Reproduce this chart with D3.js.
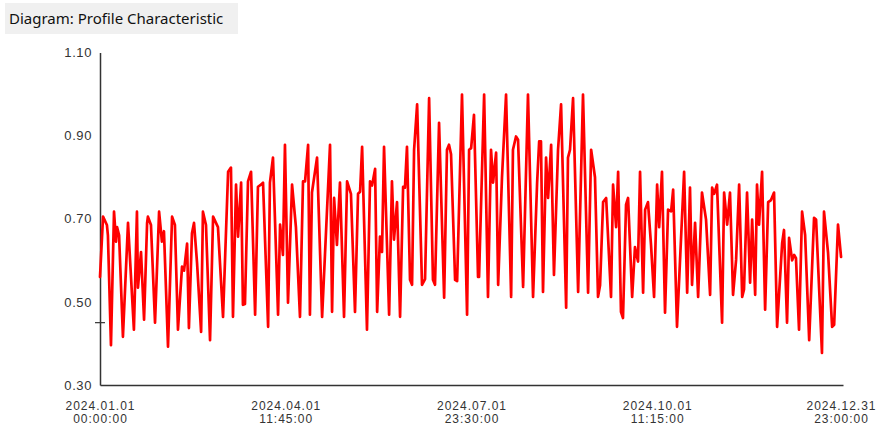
<!DOCTYPE html>
<html>
<head>
<meta charset="utf-8">
<script src="https://cdn.jsdelivr.net/npm/d3@7"></script>
<style>
  html, body { margin: 0; padding: 0; background: #ffffff; }
  svg { display: block; }
</style>
</head>
<body>
<svg id="chart" width="876" height="426"></svg>
<script>
// Profile characteristic over 2024: time in days since 2024-01-01 00:00 and the profile value.
const title = "Diagram: Profile Characteristic";

const dayOffsets = [
  0, 1.5, 3.4, 3.9, 5.4, 6.9, 7.9, 8.4, 9.4, 11.3, 13.8, 16.7, 18.2, 18.7, 20.2, 21.7,
  23.2, 23.6, 25.1, 27.1, 29.1, 30.5, 31.5, 33.5, 35.5, 36.9, 38.4, 40.4, 41.4, 42.9, 43.8,
  45.3, 46.3, 47.8, 49.8, 50.7, 52.2, 54.2, 55.7, 58.1, 60.6, 63.1, 64.5, 65.5, 67.0, 68.0,
  69.5, 70.4, 71.4, 72.9, 74.4, 76.4, 77.8, 79.3, 80.3, 82.8, 83.7, 85.2, 87.7, 88.7, 90.1,
  91.1, 92.6, 94.6, 96.5, 98.5, 100.0, 101.0, 102.5, 103.4, 104.4, 106.9, 109.4, 113.3, 114.3,
  115.3, 116.7, 118.2, 120.2, 121.7, 123.6, 125.6, 127.1, 128.1, 129.1, 131.5, 133.0, 134.0,
  135.5, 136.5, 137.9, 138.9, 139.9, 142.4, 143.8, 144.8, 146.3, 147.8, 149.3, 150.2, 151.2,
  152.7, 153.7, 154.7, 156.2, 158.6, 160.1, 162.1, 164.0, 165.0, 167.0, 169.5, 170.9, 171.9,
  172.9, 174.9, 175.9, 178.3, 180.8, 181.8, 182.8, 184.2, 186.2, 186.7, 189.2, 191.1, 192.6,
  193.6, 195.1, 196.1, 198.0, 200.0, 202.5, 203.4, 204.9, 205.9, 208.4, 210.8, 213.3, 215.3,
  216.3, 217.2, 218.2, 219.7, 220.7, 222.2, 223.6, 225.6, 227.1, 229.6, 230.5, 231.5, 233.0,
  235.5, 237.9, 240.4, 241.9, 243.8, 245.3, 246.3, 247.8, 249.3, 251.7, 252.7, 254.2, 255.2,
  256.6, 257.6, 259.1, 260.1, 262.1, 263.5, 265.0, 266.0, 267.5, 268.5, 269.9, 271.4, 272.9,
  274.4, 275.4, 276.8, 278.3, 279.8, 281.3, 282.3, 284.2, 285.7, 287.7, 289.2, 290.6, 291.6,
  293.1, 294.6, 296.5, 298.5, 300.5, 301.5, 302.5, 303.9, 306.4, 307.4, 308.9, 310.3, 311.8,
  313.3, 314.8, 316.3, 317.2, 318.7, 320.2, 321.2, 322.7, 323.6, 324.6, 326.1, 327.6, 329.1,
  330.5, 332.0, 333.5, 336.0, 336.9, 338.4, 339.4, 340.9, 341.9, 342.8, 344.3, 345.8, 347.3,
  349.3, 351.7, 352.7, 355.6, 356.6, 358.6, 360.6, 361.6, 363.5, 365.0
];

const profileValues = [
  0.56, 0.705, 0.685, 0.66, 0.396, 0.717, 0.645, 0.68, 0.66, 0.416, 0.69, 0.433, 0.717, 0.534, 0.62, 0.457,
  0.69, 0.705, 0.685, 0.45, 0.717, 0.645, 0.67, 0.392, 0.705, 0.685, 0.433, 0.585, 0.575, 0.64, 0.437,
  0.665, 0.69, 0.594, 0.428, 0.717, 0.685, 0.408, 0.705, 0.68, 0.464, 0.813, 0.823, 0.464, 0.782, 0.657,
  0.787, 0.493, 0.495, 0.79, 0.813, 0.469, 0.777, 0.782, 0.787, 0.44, 0.787, 0.847, 0.469, 0.686, 0.613,
  0.878, 0.498, 0.782, 0.68, 0.464, 0.79, 0.79, 0.878, 0.469, 0.763, 0.847, 0.464, 0.878, 0.476,
  0.75, 0.637, 0.787, 0.464, 0.79, 0.76, 0.476, 0.76, 0.765, 0.873, 0.433, 0.79, 0.78,
  0.82, 0.476, 0.657, 0.62, 0.873, 0.469, 0.79, 0.65, 0.74, 0.464, 0.777, 0.775, 0.873,
  0.553, 0.541, 0.866, 0.975, 0.541, 0.555, 0.99, 0.553, 0.541, 0.931, 0.51, 0.866, 0.878,
  0.855, 0.553, 0.55, 0.999, 0.469, 0.866, 0.87, 0.95, 0.56, 0.56, 0.999, 0.512, 0.866,
  0.787, 0.859, 0.541, 0.80, 0.999, 0.512, 0.866, 0.898, 0.89, 0.536, 0.999, 0.512, 0.787,
  0.886, 0.886, 0.524, 0.847, 0.75, 0.878, 0.565, 0.866, 0.975, 0.486, 0.847, 0.866, 0.99,
  0.524, 0.999, 0.522, 0.866, 0.80, 0.512, 0.54, 0.74, 0.75, 0.512, 0.782, 0.68, 0.813,
  0.476, 0.461, 0.734, 0.75, 0.512, 0.632, 0.597, 0.813, 0.522, 0.722, 0.74, 0.637, 0.512,
  0.782, 0.68, 0.813, 0.474, 0.722, 0.718, 0.77, 0.44, 0.601, 0.813, 0.522, 0.775, 0.541,
  0.69, 0.512, 0.763, 0.698, 0.517, 0.775, 0.76, 0.782, 0.45, 0.763, 0.686, 0.763, 0.517,
  0.601, 0.782, 0.512, 0.53, 0.763, 0.546, 0.698, 0.517, 0.782, 0.686, 0.813, 0.481, 0.74,
  0.745, 0.763, 0.44, 0.642, 0.673, 0.45, 0.654, 0.60, 0.613, 0.605, 0.433, 0.717, 0.661,
  0.408, 0.702, 0.698, 0.377, 0.717, 0.618, 0.44, 0.445, 0.686, 0.608
];

const yTickValues = [0.30, 0.50, 0.70, 0.90, 1.10];
const xTickTimes = [
  "2024-01-01T00:00:00Z",
  "2024-04-01T11:45:00Z",
  "2024-07-01T23:30:00Z",
  "2024-10-01T11:15:00Z",
  "2024-12-31T23:00:00Z"
];
const markerValue = 0.45;

const DAY_MS = 86400000;
const startMs = Date.parse(xTickTimes[0]);
const points = dayOffsets.map((d, i) => ({ t: new Date(startMs + d * DAY_MS), v: profileValues[i] }));
const xTicks = xTickTimes.map(s => new Date(s));

const svg = d3.select("#chart");
const labelFont = "'Liberation Sans', Arial, sans-serif";

// Title band
svg.append("rect")
  .attr("x", 5).attr("y", 3).attr("width", 233).attr("height", 31)
  .attr("fill", "#f0f0f0");
svg.append("text")
  .attr("x", 9).attr("y", 24)
  .attr("font-family", "'Noto Sans', 'Open Sans', sans-serif")
  .attr("font-size", 15)
  .attr("fill", "#111")
  .text(title);

const x = d3.scaleUtc().domain([xTicks[0], xTicks[xTicks.length - 1]]).range([100, 843]);
const y = d3.scaleLinear().domain([0.30, 1.10]).range([385, 52.5]);

// Y axis
const yAxis = svg.append("g")
  .attr("transform", "translate(100,0)")
  .call(d3.axisLeft(y).tickValues(yTickValues).tickFormat(d3.format(".2f")).tickSize(0).tickSizeOuter(0).tickPadding(8));
yAxis.select(".domain").attr("stroke", "#333").attr("stroke-width", 1.5);
yAxis.selectAll("text")
  .attr("font-family", labelFont).attr("font-size", 13)
  .attr("letter-spacing", "0.6px")
  .attr("fill", "#333");

// X axis with two-line date/time labels
const fmtDate = d3.utcFormat("%Y.%m.%d");
const fmtTime = d3.utcFormat("%H:%M:%S");
const xAxis = svg.append("g")
  .attr("transform", "translate(0,385)")
  .call(d3.axisBottom(x).tickValues(xTicks).tickSize(0).tickSizeOuter(0).tickFormat(() => ""));
xAxis.select(".domain").attr("stroke", "#333").attr("stroke-width", 1.5);
xAxis.selectAll(".tick text").each(function(d, i) {
  const t = d3.select(this)
    .attr("y", 0).attr("dy", null)
    .attr("font-family", labelFont).attr("font-size", 12)
    .attr("letter-spacing", "1px")
    .attr("fill", "#333")
    .attr("text-anchor", "middle");
  const dx = i === xTicks.length - 1 ? -2 : 0;
  t.append("tspan").attr("x", dx).attr("y", 25).text(fmtDate(d));
  t.append("tspan").attr("x", dx).attr("y", 38).text(fmtTime(d));
});

// Small reference marker on the value axis
svg.append("line")
  .attr("x1", 95).attr("x2", 105)
  .attr("y1", y(markerValue)).attr("y2", y(markerValue))
  .attr("stroke", "#333").attr("stroke-width", 1.2);

// Profile line
const line = d3.line().x(d => x(d.t)).y(d => y(d.v));
svg.append("path")
  .datum(points)
  .attr("d", line)
  .attr("fill", "none")
  .attr("stroke", "#ff0000")
  .attr("stroke-width", 2.7)
  .attr("stroke-linejoin", "round")
  .attr("stroke-linecap", "round");
</script>
</body>
</html>
